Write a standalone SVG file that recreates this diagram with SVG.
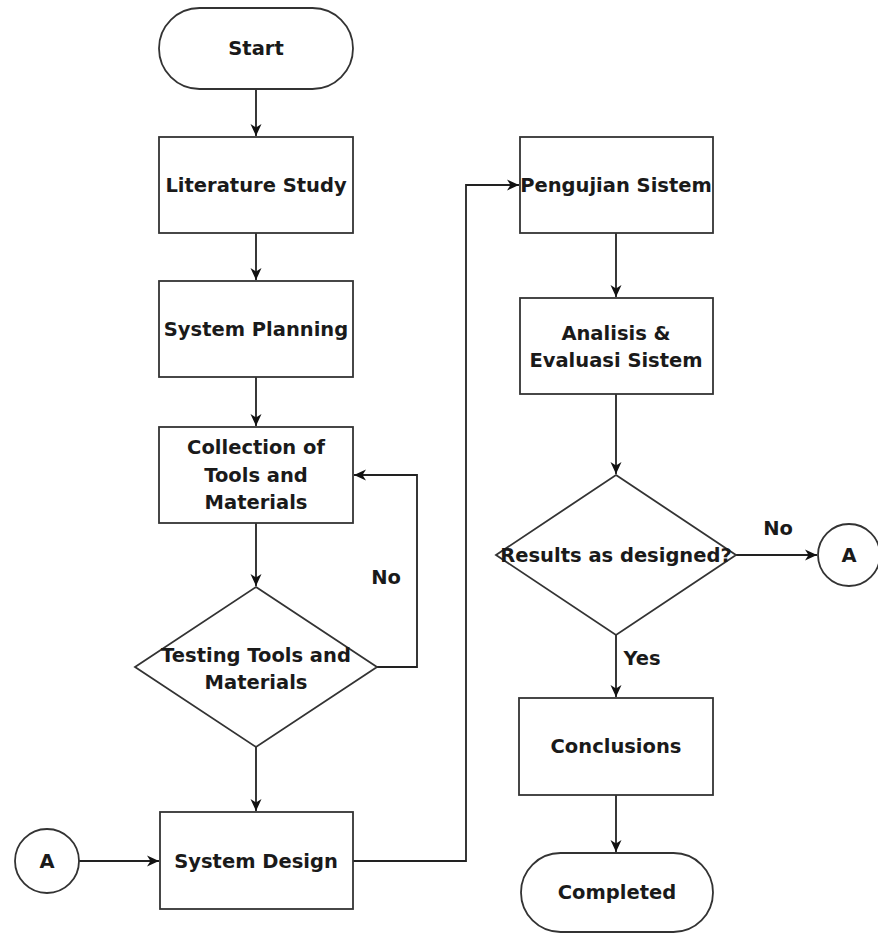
<svg xmlns="http://www.w3.org/2000/svg" width="878" height="933" viewBox="0 0 878 933">
<defs>
<style>
.s{fill:#fff;stroke:#333;stroke-width:1.8}
.t{font-family:"DejaVu Sans",Verdana,sans-serif;font-weight:bold;font-size:19.5px;fill:#1a1a1a;text-anchor:middle;dominant-baseline:central}
.c{fill:none;stroke:#222;stroke-width:1.8}
</style>
<marker id="ar" viewBox="0 0 14 14" refX="13" refY="7" markerWidth="14" markerHeight="14" markerUnits="userSpaceOnUse" orient="auto">
<path d="M1,1.5 L13,7 L1,12.5 L4.5,7 Z" fill="#111"/>
</marker>
</defs>
<rect width="878" height="933" fill="#fff"/>
<g id="connectors">
<path class="c" d="M256,89 V136" marker-end="url(#ar)"/>
<path class="c" d="M256,233 V280" marker-end="url(#ar)"/>
<path class="c" d="M256,377 V426" marker-end="url(#ar)"/>
<path class="c" d="M256,523 V586" marker-end="url(#ar)"/>
<path class="c" d="M256,747 V811" marker-end="url(#ar)"/>
<path class="c" d="M376,667 H417 V475 H354" marker-end="url(#ar)"/>
<path class="c" d="M79,861 H159" marker-end="url(#ar)"/>
<path class="c" d="M353,861 H466 V185 H519" marker-end="url(#ar)"/>
<path class="c" d="M616,233 V297" marker-end="url(#ar)"/>
<path class="c" d="M616,394 V474" marker-end="url(#ar)"/>
<path class="c" d="M736,555 H817" marker-end="url(#ar)"/>
<path class="c" d="M616,635 V697" marker-end="url(#ar)"/>
<path class="c" d="M616,795 V852" marker-end="url(#ar)"/>
<text class="t" x="386" y="577">No</text>
<text class="t" x="778" y="528">No</text>
<text class="t" x="642" y="658">Yes</text>
</g>
<g id="start"><rect class="s" x="159" y="8" width="194" height="81" rx="40.5"/><text class="t" x="256" y="48">Start</text></g>
<g id="literature"><rect class="s" x="159" y="137" width="194" height="96"/><text class="t" x="256" y="185">Literature Study</text></g>
<g id="planning"><rect class="s" x="159" y="281" width="194" height="96"/><text class="t" x="256" y="329">System Planning</text></g>
<g id="collection"><rect class="s" x="159" y="427" width="194" height="96"/><text class="t" x="256" y="447">Collection of</text><text class="t" x="256" y="475">Tools and</text><text class="t" x="256" y="502">Materials</text></g>
<g id="testing"><polygon class="s" points="256,587 377,667 256,747 135,667"/><text class="t" x="256" y="655">Testing Tools and</text><text class="t" x="256" y="682">Materials</text></g>
<g id="connA1"><circle class="s" cx="47" cy="861" r="32"/><text class="t" x="47" y="861">A</text></g>
<g id="design"><rect class="s" x="160" y="812" width="193" height="97"/><text class="t" x="256" y="861">System Design</text></g>
<g id="pengujian"><rect class="s" x="520" y="137" width="193" height="96"/><text class="t" x="616" y="185">Pengujian Sistem</text></g>
<g id="analisis"><rect class="s" x="520" y="298" width="193" height="96"/><text class="t" x="616" y="333">Analisis &amp;</text><text class="t" x="616" y="360">Evaluasi Sistem</text></g>
<g id="results"><polygon class="s" points="616,475 736,555 616,635 496,555"/><text class="t" x="616" y="555">Results as designed?</text></g>
<g id="connA2"><circle class="s" cx="849" cy="555" r="31"/><text class="t" x="849" y="555">A</text></g>
<g id="conclusions"><rect class="s" x="519" y="698" width="194" height="97"/><text class="t" x="616" y="746">Conclusions</text></g>
<g id="completed"><rect class="s" x="521" y="853" width="192" height="79" rx="39.5"/><text class="t" x="617" y="892">Completed</text></g>
</svg>
